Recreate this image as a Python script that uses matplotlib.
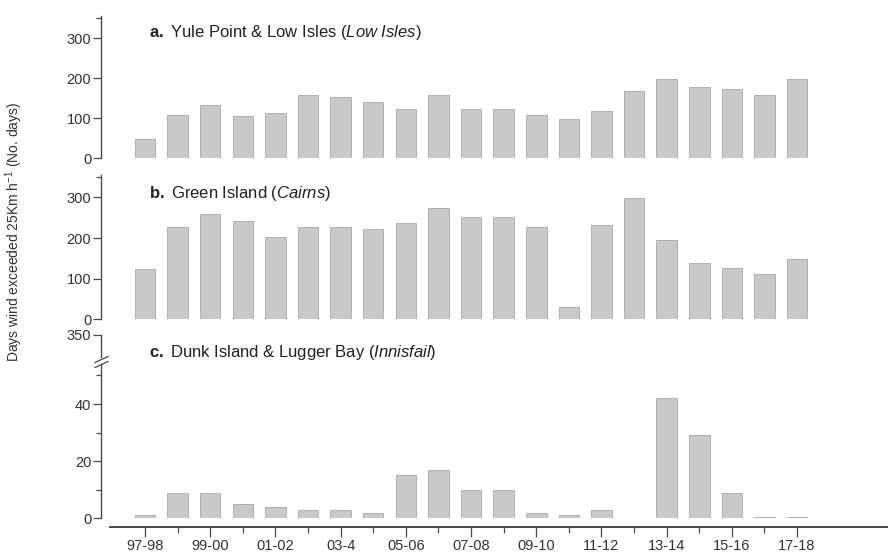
import matplotlib
matplotlib.use("Agg")
import matplotlib.pyplot as plt
from matplotlib.ticker import FixedLocator
from matplotlib.lines import Line2D

plt.rcParams['font.family'] = ['Liberation Sans', 'DejaVu Sans']
plt.rcParams['mathtext.fontset'] = 'custom'
plt.rcParams['mathtext.rm'] = 'Liberation Sans'
plt.rcParams['mathtext.it'] = 'Liberation Sans:italic'
plt.rcParams['mathtext.bf'] = 'Liberation Sans:bold'

# Wind seasons (July-June)
seasons = ['97-98', '98-99', '99-00', '00-01', '01-02', '02-03', '03-4',
           '04-05', '05-06', '06-07', '07-08', '08-09', '09-10', '10-11',
           '11-12', '12-13', '13-14', '14-15', '15-16', '16-17', '17-18']
tick_labels = ['97-98', '99-00', '01-02', '03-4', '05-06', '07-08',
               '09-10', '11-12', '13-14', '15-16', '17-18']

# Days per season with wind > 25 km/h
yule_low_isles = [49, 109, 134, 105, 113, 159, 153, 140, 124, 159, 124,
                  124, 109, 99, 119, 168, 198, 178, 173, 159, 198]
green_island = [123, 228, 258, 242, 203, 228, 228, 222, 238, 275, 251,
                252, 228, 30, 232, 299, 195, 139, 125, 111, 148]
dunk_lugger = [1, 9, 9, 5, 4, 3, 3, 2, 15, 17, 10,
               10, 2, 1, 3, 0, 42, 29, 9, 0.5, 0.5]

titles = [
    r"$\mathbf{a.}$ Yule Point & Low Isles ($\mathit{Low\ Isles}$)",
    r"$\mathbf{b.}$ Green Island ($\mathit{Cairns}$)",
    r"$\mathbf{c.}$ Dunk Island & Lugger Bay ($\mathit{Innisfail}$)",
]

W, H = 888, 553
fig = plt.figure(figsize=(W / 100, H / 100), dpi=100)

BAR_FC = '#c9c9c9'
BAR_EC = '#a8a8a8'
AX_C = '#4a4a4a'
TXT_C = '#333333'
TICK_FS = 10.5
TITLE_FS = 12

x = list(range(len(seasons)))
XLIM = (-1.074, 22.79)


def add_px_axes(left, top, right, bottom):
    return fig.add_axes([left / W, 1 - bottom / H, (right - left) / W, (bottom - top) / H])


def style_axes(ax, show_bottom=False):
    ax.set_facecolor('none')
    for s in ['top', 'right']:
        ax.spines[s].set_visible(False)
    ax.spines['bottom'].set_visible(show_bottom)
    ax.spines['left'].set_position(('outward', 6.5))
    ax.spines['left'].set_color(AX_C)
    ax.spines['left'].set_linewidth(1.0)
    ax.tick_params(axis='y', which='both', direction='out', color=AX_C,
                   labelcolor=TXT_C, labelsize=TICK_FS, width=0.9, pad=1.5)
    ax.tick_params(axis='y', which='major', length=5.5)
    ax.tick_params(axis='y', which='minor', length=3.5)
    ax.set_xlim(*XLIM)
    if not show_bottom:
        ax.set_xticks([])


# Panel a
ax_a = add_px_axes(110, 16.3, 888, 158.3)
ax_a.bar(x, yule_low_isles, width=0.63, color=BAR_FC, edgecolor=BAR_EC, linewidth=0.6)
ax_a.set_ylim(0, 355)
style_axes(ax_a)
ax_a.set_yticks([0, 100, 200, 300])
ax_a.yaxis.set_minor_locator(FixedLocator([350]))
ax_a.text(0.05, 0.885, titles[0], transform=ax_a.transAxes, fontsize=TITLE_FS,
          color='#222222', va='center', ha='left')

# Panel b
ax_b = add_px_axes(110, 175, 888, 319.3)
ax_b.bar(x, green_island, width=0.63, color=BAR_FC, edgecolor=BAR_EC, linewidth=0.6)
ax_b.set_ylim(0, 355)
style_axes(ax_b)
ax_b.set_yticks([0, 100, 200, 300])
ax_b.yaxis.set_minor_locator(FixedLocator([350]))
ax_b.text(0.05, 0.87, titles[1], transform=ax_b.transAxes, fontsize=TITLE_FS,
          color='#222222', va='center', ha='left')

# Panel c: lower part of the broken axis
ax_c = add_px_axes(110, 364, 888, 518.3)
ax_c.bar(x, dunk_lugger, width=0.63, color=BAR_FC, edgecolor=BAR_EC, linewidth=0.6)
ax_c.set_ylim(0, 54)
style_axes(ax_c, show_bottom=True)
ax_c.set_yticks([0, 20, 40])
ax_c.yaxis.set_minor_locator(FixedLocator([10, 30, 50]))
ax_c.spines['bottom'].set_position(('outward', 6))
ax_c.spines['bottom'].set_color(AX_C)
ax_c.spines['bottom'].set_linewidth(1.4)
ax_c.set_xticks(x[::2])
ax_c.set_xticklabels(tick_labels)
ax_c.xaxis.set_minor_locator(FixedLocator(x[1::2]))
ax_c.tick_params(axis='x', which='both', direction='out', color=AX_C,
                 labelcolor=TXT_C, labelsize=TICK_FS, width=0.9, pad=2)
ax_c.tick_params(axis='x', which='major', length=7)
ax_c.tick_params(axis='x', which='minor', length=4)

# Panel c: upper stub of the broken axis
ax_c2 = add_px_axes(110, 335, 888, 357)
ax_c2.set_ylim(330, 350)
style_axes(ax_c2)
ax_c2.set_yticks([350])
ax_c2.set_xticks([])
ax_c2.text(0.05, 0.2, titles[2], transform=ax_c2.transAxes, fontsize=TITLE_FS,
           color='#222222', va='center', ha='left')

# Axis break marks
for yb in (359.5, 364.5):
    fig.add_artist(Line2D([95 / W, 108 / W], [1 - (yb + 3) / H, 1 - (yb - 3) / H],
                          color=AX_C, linewidth=0.9, transform=fig.transFigure))

fig.text(14 / W, 1 - 232 / H, r"Days wind exceeded 25Km h$^{-1}$ (No. days)",
         rotation=90, ha='center', va='center', fontsize=10, color=TXT_C)

fig.savefig('out.png', dpi=100)
